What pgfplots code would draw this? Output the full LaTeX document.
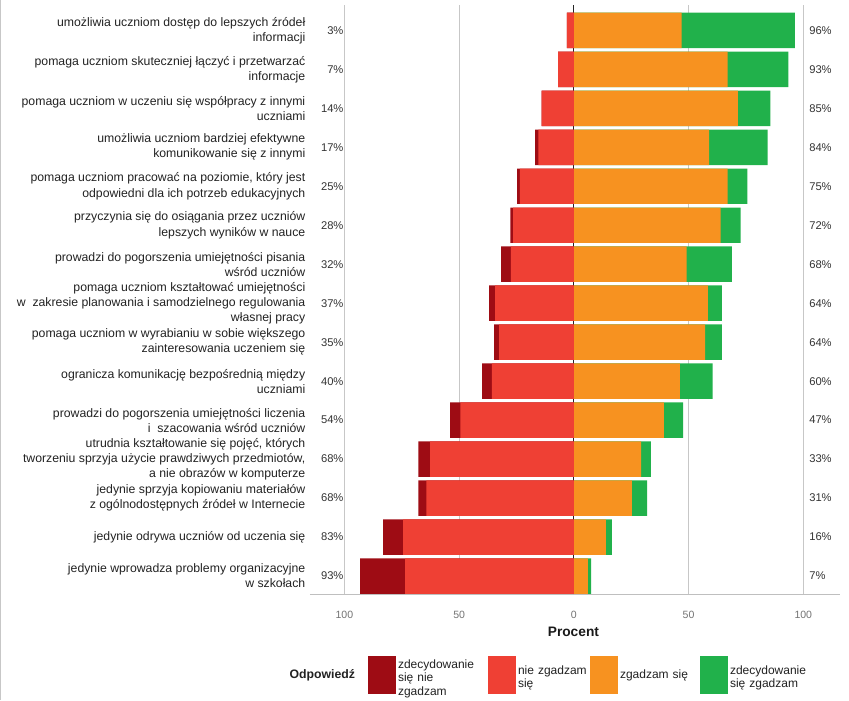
\documentclass[border=0pt]{standalone}
\usepackage{fontspec}
\setmainfont{Liberation Sans}
\usepackage{pgfplots}
\usepackage{pgfplotstable}
\pgfplotsset{compat=1.18}
\definecolor{dred}{RGB}{158,12,20}
\definecolor{cred}{RGB}{239,64,52}
\definecolor{corange}{RGB}{247,146,32}
\definecolor{cgreen}{RGB}{33,177,75}
\definecolor{txt}{RGB}{34,34,34}
\newcommand\catfont{\fontsize{9.2}{11.3}\selectfont}
\newcommand\pctfont{\fontsize{8.4}{9.5}\selectfont}
\newcommand\legfont{\fontsize{9}{10}\selectfont}

% y: position (14 = top row); d: strongly disagree, r: disagree, o: agree, g: strongly agree
\pgfplotstableread{
y d r o g lp rp
14 0 3 47 49.3 3 96
13 0 6.9 67 26.5 7 93
12 0 14 71.5 14.2 14 85
11 1.4 15.5 59 25.5 17 84
10 1.2 23.5 67 8.6 25 75
9 1.2 26.5 64 8.7 28 72
8 4.3 27.4 49.2 19.7 32 68
7 2.6 34.3 58.4 6.1 37 64
6 2.1 32.6 57.2 7.3 35 64
5 4.3 35.7 46.2 14.3 40 60
4 4.4 49.5 39.2 8.4 54 47
3 5.2 62.6 29.3 4.3 68 33
2 3.5 64.3 25.3 6.6 68 31
1 8.7 74.4 14.0 2.6 83 16
0 19.6 73.5 6.1 1.4 93 7
}\data

\begin{document}
\begin{tikzpicture}
\path[use as bounding box] (-232.5pt,-79.5pt) rectangle (404.25pt,445.5pt);
\draw[black!22, line width=0.7pt] (-232.15pt,-79.5pt) -- (-232.15pt,445.5pt);
\begin{axis}[
  at={(0,0)}, anchor=south west,
  scale only axis, width=397.5pt, height=441.75pt,
  xmin=-115, xmax=116, ymin=-0.46, ymax=14.65,
  /pgf/number format/assume math mode=true,
  axis x line*=bottom, axis y line*=left,
  x axis line style={draw=black!25, line width=0.7pt, -},
  y axis line style={draw=none},
  xtick={-100,-50,0,50,100},
  xticklabels={100,50,0,50,100},
  xtick style={draw=none}, ytick style={draw=none},
  xticklabel style={font=\fontsize{7.9}{9}\selectfont, text=black!55, yshift=-9pt},
  ytick={0,...,14},
  yticklabels={
    {jedynie wprowadza problemy organizacyjne\\w szkołach},
    {jedynie odrywa uczniów od uczenia się},
    {jedynie sprzyja kopiowaniu materiałów\\z ogólnodostępnych źródeł w Internecie},
    {utrudnia kształtowanie się pojęć, których\\tworzeniu sprzyja użycie prawdziwych przedmiotów,\\a nie obrazów w komputerze},
    {prowadzi do pogorszenia umiejętności liczenia\\i\ \ szacowania wśród uczniów},
    {ogranicza komunikację bezpośrednią między\\uczniami},
    {pomaga uczniom w wyrabianiu w sobie większego\\zainteresowania uczeniem się},
    {pomaga uczniom kształtować umiejętności\\w\ \ zakresie planowania i samodzielnego regulowania\\własnej pracy},
    {prowadzi do pogorszenia umiejętności pisania\\wśród uczniów},
    {przyczynia się do osiągania przez uczniów\\lepszych wyników w nauce},
    {pomaga uczniom pracować na poziomie, który jest\\odpowiedni dla ich potrzeb edukacyjnych},
    {umożliwia uczniom bardziej efektywne\\komunikowanie się z innymi},
    {pomaga uczniom w uczeniu się współpracy z innymi\\uczniami},
    {pomaga uczniom skuteczniej łączyć i przetwarzać\\informacje},
    {umożliwia uczniom dostęp do lepszych źródeł\\informacji}},
  yticklabel style={align=right, font=\catfont, text=txt},
  xmajorgrids, grid style={black!22, line width=0.7pt},
  extra x ticks={0}, extra x tick labels={},
  extra x tick style={grid style={draw=black!85, line width=0.7pt}},
  xlabel={\textbf{Procent}},
  xlabel style={at={(axis description cs:0.497,0)}, anchor=base, yshift=-31.5pt, font=\fontsize{10.3}{12}\selectfont, text=black!90},
  legend columns=5,
  legend style={at={(rel axis cs:-0.0654,-0.1375)}, anchor=west, draw=none, inner sep=0pt, outer sep=0pt,
    font=\legfont, text=txt, nodes={inner xsep=1.5pt, inner ysep=1pt},
    /tikz/every even column/.append style={column sep=0pt}},
  legend cell align=left,
  legend image code/.code={\fill[#1, draw=none] (0pt,-13.9pt) rectangle (21pt,13.9pt);},
]
\addplot[xbar, bar width=0.91, bar shift=0pt, fill=cgreen, draw=none, forget plot]
  table[x expr=\thisrow{o}+\thisrow{g}, y=y] {\data};
\addplot[xbar, bar width=0.91, bar shift=0pt, fill=corange, draw=none, forget plot]
  table[x=o, y=y] {\data};
\addplot[xbar, bar width=0.91, bar shift=0pt, fill=dred, draw=none, forget plot]
  table[x expr=-\thisrow{d}-\thisrow{r}, y=y] {\data};
\addplot[xbar, bar width=0.91, bar shift=0pt, fill=cred, draw=none, forget plot]
  table[x expr=-\thisrow{r}, y=y] {\data};
\addplot[draw=none, mark=none, forget plot, point meta=explicit,
  nodes near coords={\pgfmathprintnumber{\pgfplotspointmeta}\%},
  nodes near coords style={anchor=east, inner sep=0pt, font=\pctfont, text=black!80}]
  table[x expr=-100.3, y=y, meta=lp] {\data};
\addplot[draw=none, mark=none, forget plot, point meta=explicit,
  nodes near coords={\pgfmathprintnumber{\pgfplotspointmeta}\%},
  nodes near coords style={anchor=west, inner sep=0pt, font=\pctfont, text=black!80}]
  table[x expr=102.5, y=y, meta=rp] {\data};
\addlegendimage{empty legend}
\addlegendentry[text width=66.5pt, align=right, font=\bfseries\fontsize{9.2}{10}\selectfont]{Odpowiedź\hspace*{8.25pt}}
\addlegendimage{fill=dred}
\addlegendentry[text width=66pt, align=left, yshift=7.5pt]{zdecydowanie\\się nie\\zgadzam}
\addlegendimage{fill=cred}
\addlegendentry[text width=52.5pt, align=left, yshift=3pt]{nie zgadzam\\się}
\addlegendimage{fill=corange}
\addlegendentry[text width=58.5pt, align=left]{zgadzam się}
\addlegendimage{fill=cgreen}
\addlegendentry[text width=80pt, align=left, yshift=3pt]{zdecydowanie\\się zgadzam}
\end{axis}
\end{tikzpicture}
\end{document}
